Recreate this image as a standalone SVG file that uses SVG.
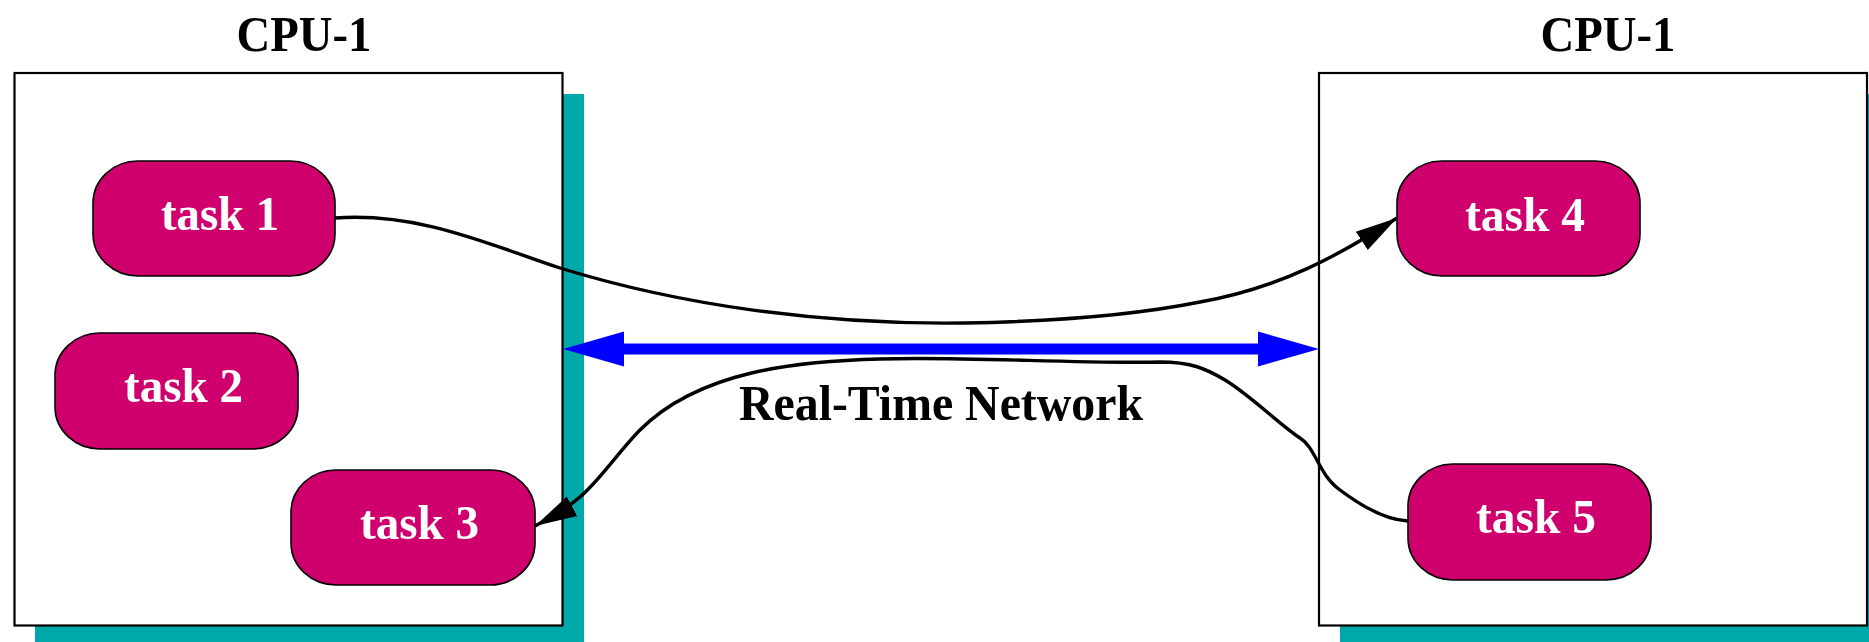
<svg xmlns="http://www.w3.org/2000/svg" width="1869" height="642" viewBox="0 0 1869 642">
  <style>
    .shadow { fill: #00A9A9; }
    .frame { fill: #ffffff; stroke: #000000; stroke-width: 2.2; }
    .title { font-family: "Liberation Serif", "Times New Roman", serif; font-weight: bold; font-size: 50px; fill: #000000; text-anchor: middle; }
    .task rect { fill: #CF006E; stroke: #000000; stroke-width: 1.6; }
    .task text { font-family: "Liberation Serif", "Times New Roman", serif; font-weight: bold; font-size: 49px; fill: #ffffff; text-anchor: middle; }
    .flow { fill: none; stroke: #000000; stroke-width: 3.4; }
    .net { stroke: #0000FF; stroke-width: 11; }
    .nethead { fill: #0000FF; }
  </style>
  <defs>
    <marker id="arrow" markerUnits="userSpaceOnUse" markerWidth="44" markerHeight="26" viewBox="0 0 44 26" refX="42" refY="13" orient="auto">
      <path d="M0,2 L42,13 L0,24 Z" fill="#000000"/>
    </marker>
  </defs>

  <!-- left processor -->
  <g id="cpu-left">
    <rect class="shadow" x="35" y="94" width="549" height="560"/>
    <rect class="frame" x="14.5" y="73" width="548" height="552.5"/>
    <text class="title" x="304" y="51" textLength="135" lengthAdjust="spacingAndGlyphs">CPU-1</text>
  </g>

  <!-- right processor -->
  <g id="cpu-right">
    <rect class="shadow" x="1340" y="94" width="549" height="560"/>
    <rect class="frame" x="1319" y="73" width="548" height="552.5"/>
    <text class="title" x="1608" y="51" textLength="135" lengthAdjust="spacingAndGlyphs">CPU-1</text>
  </g>

  <!-- message flows and network -->
  <g id="connectors">
    <path class="flow" marker-end="url(#arrow)" d="M335,218 C420,212 490,245 560,268 C680,305 820,325 965,323 C1080,321 1150,312 1200,302 C1280,288 1340,255 1397,218"/>
    <path class="flow" marker-end="url(#arrow)" d="M1408,521 C1385,520 1360,505 1340,490 C1318,474 1316,448 1300,438 C1280,425 1250,395 1225,380 C1205,368 1190,362 1160,362 C1080,364 960,356 880,359 C800,361 700,370 640,430 C620,450 600,480 580,497 C565,510 550,518 535,526"/>
    <g id="network">
      <line class="net" x1="618" y1="349" x2="1264" y2="349"/>
      <polygon class="nethead" points="563,349 624,331.5 624,366.5"/>
      <polygon class="nethead" points="1319,349 1258,331.5 1258,366.5"/>
    </g>
    <text class="title" x="941" y="420" textLength="404" lengthAdjust="spacingAndGlyphs">Real-Time Network</text>
  </g>

  <!-- tasks -->
  <g id="task1" class="task">
    <rect x="93" y="161" width="242" height="115" rx="45" ry="42"/>
    <text x="220" y="230" textLength="118" lengthAdjust="spacingAndGlyphs">task 1</text>
  </g>
  <g id="task2" class="task">
    <rect x="55" y="333" width="243" height="116" rx="45" ry="42"/>
    <text x="183.5" y="402" textLength="119" lengthAdjust="spacingAndGlyphs">task 2</text>
  </g>
  <g id="task3" class="task">
    <rect x="291" y="470" width="244" height="115" rx="45" ry="42"/>
    <text x="419.5" y="539" textLength="119" lengthAdjust="spacingAndGlyphs">task 3</text>
  </g>
  <g id="task4" class="task">
    <rect x="1397" y="161" width="243" height="115" rx="45" ry="42"/>
    <text x="1525" y="231" textLength="120" lengthAdjust="spacingAndGlyphs">task 4</text>
  </g>
  <g id="task5" class="task">
    <rect x="1408" y="464" width="243" height="116" rx="45" ry="42"/>
    <text x="1536" y="533" textLength="120" lengthAdjust="spacingAndGlyphs">task 5</text>
  </g>
</svg>
